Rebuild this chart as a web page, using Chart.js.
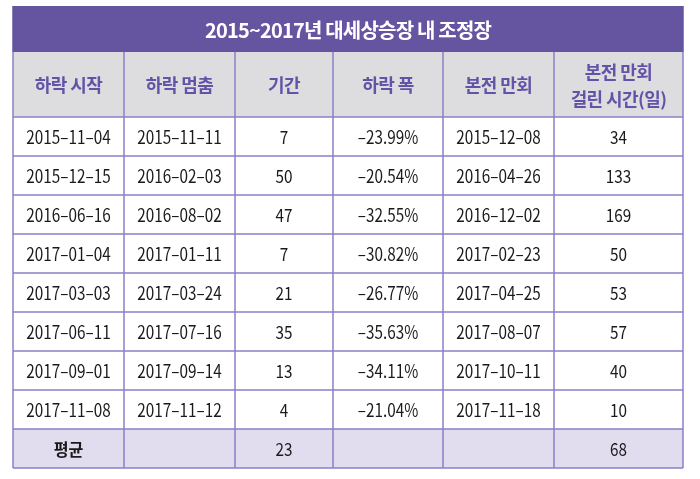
<!DOCTYPE html>
<html><head><meta charset="utf-8">
<script src="https://cdn.jsdelivr.net/npm/chart.js@4"></script>
<style>html,body{margin:0;padding:0;background:#fff;}canvas{display:block;}</style>
</head><body>
<canvas id="c" width="700" height="479"></canvas>
<script>
// ---- data ----
const title = '2015~2017년 대세상승장 내 조정장';
const columns = ['하락 시작', '하락 멈춤', '기간', '하락 폭', '본전 만회', '본전 만회\n걸린 시간(일)'];
const dropStart = ['2015–11–04','2015–12–15','2016–06–16','2017–01–04','2017–03–03','2017–06–11','2017–09–01','2017–11–08'];
const dropEnd = ['2015–11–11','2016–02–03','2016–08–02','2017–01–11','2017–03–24','2017–07–16','2017–09–14','2017–11–12'];
const periodDays = [7, 50, 47, 7, 21, 35, 13, 4];
const dropPct = [-23.99, -20.54, -32.55, -30.82, -26.77, -35.63, -34.11, -21.04];
const recoveryDate = ['2015–12–08','2016–04–26','2016–12–02','2017–02–23','2017–04–25','2017–08–07','2017–10–11','2017–11–18'];
const recoveryDays = [34, 133, 169, 50, 53, 57, 40, 10];
const avgLabel = '평균';
const avgPeriod = 23;
const avgRecovery = 68;

// ---- layout (table units on the chart's scales) ----
const colEdges = [13, 124, 235, 333, 443, 554, 683];
const titleTop = 6, headerTop = 52, bodyTop = 117, rowH = 39;

const fmtPct = v => '–' + Math.abs(v).toFixed(2) + '%';
const rows = dropStart.map((d, i) => [d, dropEnd[i], String(periodDays[i]), fmtPct(dropPct[i]), recoveryDate[i], String(recoveryDays[i])]);
const avgRow = [avgLabel, '', String(avgPeriod), '', '', String(avgRecovery)];

function condensedText(ctx, t, x, y, sx) {
  ctx.save();
  ctx.translate(x, y);
  ctx.scale(sx, 1);
  ctx.fillText(t, 0, 0);
  ctx.restore();
}

const tablePlugin = {
  id: 'table',
  beforeDatasetsDraw(chart) {
    const ctx = chart.ctx, xs = chart.scales.x, ys = chart.scales.y;
    const X = v => xs.getPixelForValue(v), Y = v => ys.getPixelForValue(v);
    const nRows = rows.length + 1;
    const bottom = bodyTop + nRows * rowH;
    const L = X(colEdges[0]), R = X(colEdges[colEdges.length - 1]);
    ctx.save();
    ctx.fillStyle = '#6555a1';
    ctx.fillRect(L, Y(titleTop), R - L, Y(headerTop) - Y(titleTop));
    ctx.fillStyle = '#dddcde';
    ctx.fillRect(L, Y(headerTop), R - L, Y(bodyTop) - Y(headerTop));
    const avgTop = bodyTop + rows.length * rowH;
    ctx.fillStyle = '#e1ddef';
    ctx.fillRect(L, Y(avgTop), R - L, Y(bottom) - Y(avgTop));
    ctx.strokeStyle = '#8c80c6';
    ctx.lineWidth = 1.5;
    ctx.beginPath();
    for (let r = 0; r <= nRows; r++) {
      const y = Y(bodyTop + r * rowH);
      ctx.moveTo(L, y); ctx.lineTo(R, y);
    }
    colEdges.forEach(c => { ctx.moveTo(X(c), Y(headerTop)); ctx.lineTo(X(c), Y(bottom)); });
    ctx.stroke();
    ctx.strokeStyle = '#6555a1';
    ctx.beginPath();
    ctx.moveTo(L, Y(titleTop)); ctx.lineTo(L, Y(headerTop));
    ctx.moveTo(R, Y(titleTop)); ctx.lineTo(R, Y(headerTop));
    ctx.stroke();
    ctx.textAlign = 'center';
    ctx.textBaseline = 'middle';
    // title
    ctx.fillStyle = '#ffffff';
    ctx.font = 'bold 20px "Noto Sans CJK KR"';
    ctx.letterSpacing = '-0.8px';
    ctx.fillText(title, (L + R) / 2, (Y(titleTop) + Y(headerTop)) / 2 + 1);
    // header
    ctx.fillStyle = '#6353a8';
    ctx.font = 'bold 18px "Noto Sans CJK KR"';
    ctx.letterSpacing = '-0.6px';
    columns.forEach((t, i) => {
      const cx = (X(colEdges[i]) + X(colEdges[i + 1])) / 2;
      const cy = (Y(headerTop) + Y(bodyTop)) / 2;
      const lines = t.split('\n');
      const lh = 27;
      lines.forEach((ln, k) => ctx.fillText(ln, cx, cy + (k - (lines.length - 1) / 2) * lh + 1));
    });
    // body
    ctx.fillStyle = '#1a1a1a';
    ctx.letterSpacing = '0px';
    [...rows, avgRow].forEach((row, r) => {
      const cy = (Y(bodyTop + r * rowH) + Y(bodyTop + (r + 1) * rowH)) / 2 + 1;
      row.forEach((t, i) => {
        if (!t) return;
        const cx = (X(colEdges[i]) + X(colEdges[i + 1])) / 2;
        if (t === avgLabel) {
          ctx.font = 'bold 17px "Noto Sans CJK KR"';
          condensedText(ctx, t, cx, cy, 0.95);
        } else {
          ctx.font = '18px "Noto Sans CJK KR"';
          condensedText(ctx, t, cx, cy, 0.85);
        }
      });
    });
    ctx.restore();
  }
};

new Chart(document.getElementById('c'), {
  type: 'scatter',
  data: { datasets: [{ data: [] }] },
  options: {
    responsive: false,
    animation: false,
    layout: { padding: 0 },
    plugins: { legend: { display: false }, tooltip: { enabled: false } },
    scales: {
      x: { type: 'linear', min: 0, max: 700, display: false },
      y: { type: 'linear', min: 0, max: 479, reverse: true, display: false }
    }
  },
  plugins: [tablePlugin]
});
</script>
</body></html>
